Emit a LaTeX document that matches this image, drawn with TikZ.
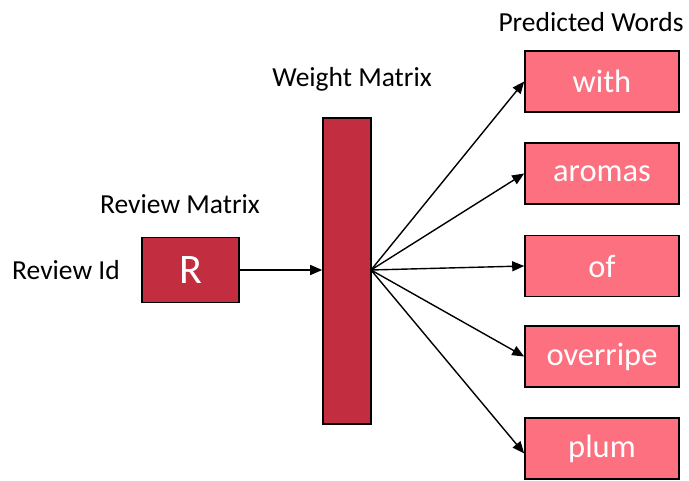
\documentclass[tikz,border=0pt]{standalone}
\usepackage{fontspec}
\setmainfont{Carlito}
\usetikzlibrary{arrows.meta}
\definecolor{darkred}{RGB}{194,46,64}
\definecolor{pinkbox}{RGB}{253,112,128}
\tikzset{
  lbl/.style={font=\fontsize{27.5}{30}\selectfont, text=black, inner sep=0pt},
  wordbox/.style={draw=black, line width=1.6pt, fill=pinkbox, minimum width=154pt, minimum height=61pt, text=white, font=\fontsize{32.5}{34}\selectfont, inner sep=0pt},
  conn/.style={line width=1.4pt, -{Triangle[length=12pt,width=10pt]}}
}
\begin{document}
\begin{tikzpicture}[x=1pt,y=-1pt]
\useasboundingbox (0,0) rectangle (689,481);
\node[draw=black, line width=1.6pt, fill=darkred, minimum width=97pt, minimum height=65pt, text=white, font=\fontsize{42}{44}\selectfont, inner sep=0pt] (R) at (190.5,270) {R};
\node[draw=black, line width=1.6pt, fill=darkred, minimum width=48pt, minimum height=306pt, inner sep=0pt] (W) at (347,271) {};
\coordinate (src) at (371,270);
\node[wordbox] (w1) at (602,81.5) {with};
\node[wordbox] (w2) at (602,173.5) {aromas};
\node[wordbox] (w3) at (602,266) {of};
\node[wordbox] (w4) at (602,356.5) {overripe};
\node[wordbox] (w5) at (602,448.5) {plum};
\node[lbl] (pw) at (591,22) {Predicted Words};
\node[lbl] (wm) at (352,79) {Weight Matrix};
\node[lbl] (rm) at (180,204) {Review Matrix};
\node[lbl] (rid) at (66,270) {Review Id};
\draw[conn] (R.east) -- (W.west |- R.east);
\draw[conn] (src) -- (w1.west);
\draw[conn] (src) -- (w2.west);
\draw[conn] (src) -- (w3.west);
\draw[conn] (src) -- (w4.west);
\draw[conn] (src) -- ([yshift=-5pt]w5.west);
\end{tikzpicture}
\end{document}
